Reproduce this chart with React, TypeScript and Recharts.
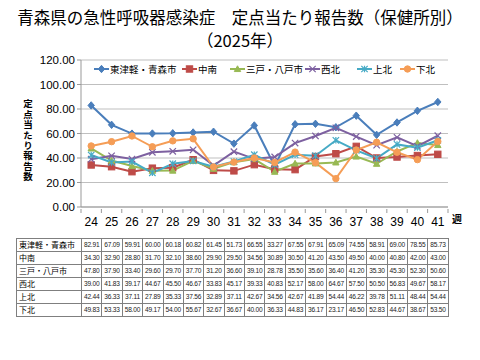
import React from "react";
import { LineChart, Line, XAxis, YAxis, CartesianGrid } from "recharts";

const weeks = ["24","25","26","27","28","29","30","31","32","33","34","35","36","37","38","39","40","41"];
const seriesNames = ["東津軽・青森市","中南","三戸・八戸市","西北","上北","下北"];
const higashiTsugaru = [82.91,67.09,59.91,60.00,60.18,60.82,61.45,51.73,66.55,33.27,67.55,67.91,65.09,74.55,58.91,69.00,78.55,85.73];
const chunan = [34.30,32.90,28.80,31.70,32.10,38.60,29.90,29.50,34.56,30.89,30.50,41.20,43.50,49.50,40.00,40.80,42.00,43.00];
const sannohe = [47.80,37.90,33.40,29.60,29.70,37.70,31.20,36.60,39.10,28.78,35.50,35.60,36.40,41.20,35.30,45.30,52.30,50.60];
const seihoku = [39.00,41.83,39.17,44.67,45.50,46.67,33.83,45.17,39.33,40.83,52.17,58.00,64.67,57.50,50.50,56.83,49.67,58.17];
const kamikita = [42.44,36.33,37.11,27.89,35.33,37.56,32.89,37.11,42.67,34.56,42.67,41.89,54.44,46.22,39.78,51.11,48.44,54.44];
const shimokita = [49.83,53.33,58.00,49.17,54.00,55.67,32.67,36.67,40.00,36.33,44.83,36.17,23.17,46.50,52.83,44.67,38.67,53.50];
const yTicks = [0,20,40,60,80,100,120];

const seriesValues = [higashiTsugaru, chunan, sannohe, seihoku, kamikita, shimokita];
const colors = ["#4A7EBB","#BE4B48","#98B954","#7D60A0","#46AAC5","#F59D56"];
const shapes = ["diamond","square","triangle","x","star","circle"];
const keys = ["s0","s1","s2","s3","s4","s5"];

const data = weeks.map((w, i) => {
  const row: any = { week: w };
  keys.forEach((k, j) => { row[k] = seriesValues[j][i]; });
  return row;
});

function Marker({ shape, color, cx, cy }: any) {
  const s = 3.2;
  if (shape === "diamond") return <path d={`M${cx},${cy - s - 0.5}L${cx + s},${cy}L${cx},${cy + s + 0.5}L${cx - s},${cy}Z`} fill={color} stroke={color} />;
  if (shape === "square") return <rect x={cx - s} y={cy - s} width={2 * s} height={2 * s} fill={color} stroke={color} />;
  if (shape === "triangle") return <path d={`M${cx},${cy - s}L${cx + s},${cy + s * 0.8}L${cx - s},${cy + s * 0.8}Z`} fill={color} stroke={color} />;
  if (shape === "x") return <path d={`M${cx - s},${cy - s}L${cx + s},${cy + s}M${cx - s},${cy + s}L${cx + s},${cy - s}`} stroke={color} strokeWidth={1.2} fill="none" />;
  if (shape === "star") return <path d={`M${cx - s},${cy - s}L${cx + s},${cy + s}M${cx - s},${cy + s}L${cx + s},${cy - s}M${cx},${cy - s}L${cx},${cy + s}`} stroke={color} strokeWidth={1.2} fill="none" />;
  return <circle cx={cx} cy={cy} r={s} fill={color} stroke={color} />;
}

const makeDot = (j: number) => (props: any) => (
  <g key={`d-${j}-${props.index}`}>
    <Marker shape={shapes[j]} color={colors[j]} cx={props.cx} cy={props.cy} />
  </g>
);

const BAND = 367 / 18;

function XTick(props: any) {
  const { x, y, payload, index } = props;
  return (
    <g>
      <line x1={x - BAND / 2} x2={x - BAND / 2} y1={y - 2} y2={y - 6} stroke="#999" />
      {index === weeks.length - 1 && <line x1={x + BAND / 2} x2={x + BAND / 2} y1={y - 2} y2={y - 6} stroke="#999" />}
      <text x={x} y={y + 11} textAnchor="middle" fontSize={12} fill="#000" fontFamily="'Liberation Sans', Arial, sans-serif">{payload.value}</text>
    </g>
  );
}

function LegendIcon({ j }: { j: number }) {
  return (
    <svg width={15} height={10} style={{ marginRight: 1 }}>
      <line x1={0} x2={15} y1={5} y2={5} stroke={colors[j]} strokeWidth={2} />
      <Marker shape={shapes[j]} color={colors[j]} cx={7.5} cy={5} />
    </svg>
  );
}

const legendLeft = [94, 182, 230, 305, 357, 400];

export default function App() {
  return (
    <div style={{ position: "absolute", left: 0, top: 0, width: 480, height: 360, background: "#fff", fontFamily: "'Noto Sans CJK JP', sans-serif", overflow: "hidden" }}>
      <div style={{ position: "absolute", top: 6, left: 0, width: 480, textAlign: "center", fontSize: 16.5, lineHeight: "23px", color: "#000", whiteSpace: "nowrap" }}>
        青森県の急性呼吸器感染症　定点当たり報告数（保健所別）
        <br />（2025年）
      </div>
      <div style={{ position: "absolute", top: 0, left: 0 }}>
        <LineChart width={480} height={235} data={data} margin={{ top: 60, right: 32, left: 0, bottom: 0 }}>
          <CartesianGrid vertical={false} stroke="#BFBFBF" />
          <XAxis dataKey="week" height={28} tick={<XTick />} tickLine={false} axisLine={{ stroke: "#999" }} interval={0} padding={{ left: BAND / 2, right: BAND / 2 }} />
          <YAxis width={81} domain={[0, 120]} ticks={yTicks} tickFormatter={(v: number) => v.toFixed(2)} axisLine={{ stroke: "#999" }} tickLine={{ stroke: "#999" }} tickSize={4} tick={{ fontSize: 11.5, fill: "#000", fontFamily: "'Liberation Sans', Arial, sans-serif" }} />
          {keys.map((k, j) => (
            <Line key={k} dataKey={k} name={seriesNames[j]} stroke={colors[j]} strokeWidth={2} dot={makeDot(j)} activeDot={false} isAnimationActive={false} />
          ))}
        </LineChart>
      </div>
      {seriesNames.map((n, j) => (
        <div key={n} style={{ position: "absolute", top: 63, left: legendLeft[j], display: "flex", alignItems: "center", fontSize: 9.5, lineHeight: "12px", whiteSpace: "nowrap" }}>
          <LegendIcon j={j} />
          <span>{n}</span>
        </div>
      ))}
      <div style={{ position: "absolute", left: 21, top: 99, width: 14, height: 86, fontSize: 9.5, fontWeight: 700, lineHeight: "14px", writingMode: "vertical-rl", textOrientation: "upright", letterSpacing: "0.9px" }}>
        定点当たり報告数
      </div>
      <div style={{ position: "absolute", left: 452, top: 211, fontSize: 10, fontWeight: 700 }}>週</div>
      <table style={{ position: "absolute", left: 16, top: 238, borderCollapse: "collapse", tableLayout: "fixed", width: 432 }}>
        <colgroup>
          <col style={{ width: 65 }} />
          {weeks.map((w) => <col key={w} style={{ width: BAND }} />)}
        </colgroup>
        <tbody>
          {seriesNames.map((n, j) => (
            <tr key={n}>
              <td style={{ border: "1px solid #7f7f7f", fontSize: 8, padding: "0 0 0 2px", whiteSpace: "nowrap", overflow: "hidden", lineHeight: "12px", height: 12 }}>{n}</td>
              {seriesValues[j].map((v, i) => (
                <td key={i} style={{ border: "1px solid #7f7f7f", fontSize: 6.6, padding: 0, textAlign: "center", whiteSpace: "nowrap", overflow: "hidden", fontFamily: "'Liberation Sans', Arial, sans-serif", letterSpacing: -0.2, lineHeight: "12px", height: 12, color: "#222" }}>{v.toFixed(2)}</td>
              ))}
            </tr>
          ))}
        </tbody>
      </table>
    </div>
  );
}
